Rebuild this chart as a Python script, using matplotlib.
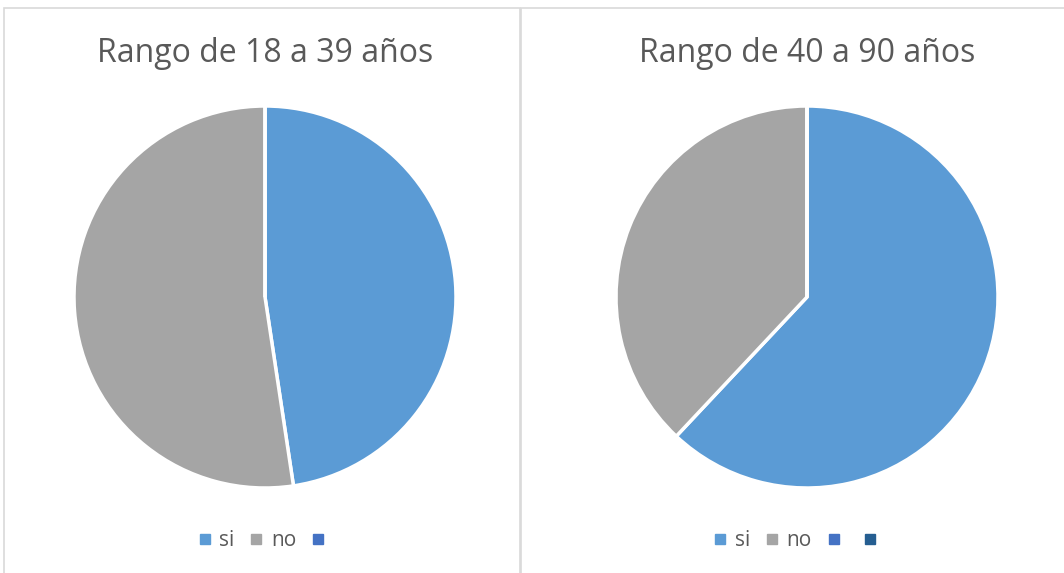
import matplotlib.pyplot as plt
from matplotlib.lines import Line2D
from matplotlib.patches import Rectangle

# datos de las dos graficas
titulos = ["Rango de 18 a 39 años", "Rango de 40 a 90 años"]
etiquetas_izq = ["si", "no", ""]
valores_izq = [10, 11, 0]
etiquetas_der = ["si", "no", "", ""]
valores_der = [62, 38, 0, 0]
colores = ["#5B9BD5", "#A5A5A5", "#4472C4", "#255E91"]

plt.rcParams["font.family"] = ["Open Sans", "DejaVu Sans"]
W, H = 1064, 573
fig = plt.figure(figsize=(W / 100, H / 100), dpi=100)

# marcos de cada grafica
borde = "#D9D9D9"
fig.add_artist(Rectangle((4 / W, -0.01), 516 / W, 1 - 8 / H + 0.01, transform=fig.transFigure,
                         fill=False, edgecolor=borde, linewidth=1.2))
fig.add_artist(Rectangle((521 / W, -0.01), 560 / W, 1 - 8 / H + 0.01, transform=fig.transFigure,
                         fill=False, edgecolor=borde, linewidth=1.2))


def dibujar(cx, titulo, etiquetas, valores, leg_x):
    r = 191
    ax = fig.add_axes([(cx - r) / W, (H - 297 - r) / H, 2 * r / W, 2 * r / H])
    ax.pie(valores, colors=colores[:len(valores)], startangle=90, counterclock=False,
           radius=1, wedgeprops=dict(edgecolor="white", linewidth=2.5))
    ax.set_xlim(-1.0, 1.0)
    ax.set_ylim(-1.0, 1.0)
    ax.set_aspect("equal")
    ax.axis("off")
    fig.text(cx / W, 1 - 54 / H, titulo, ha="center", va="center", fontsize=23, color="#595959")
    handles = [Line2D([], [], marker="s", linestyle="", markersize=6.5, color=c)
               for c in colores[:len(etiquetas)]]
    fig.legend(handles, etiquetas, loc="center", bbox_to_anchor=(leg_x / W, 1 - 541 / H),
               ncol=len(etiquetas), frameon=False, fontsize=15, labelcolor="#595959",
               handlelength=0.5, handletextpad=0.45, columnspacing=0.8)


dibujar(265, titulos[0], etiquetas_izq, valores_izq, 266)
dibujar(807, titulos[1], etiquetas_der, valores_der, 800)

fig.savefig("out.png", dpi=100)
